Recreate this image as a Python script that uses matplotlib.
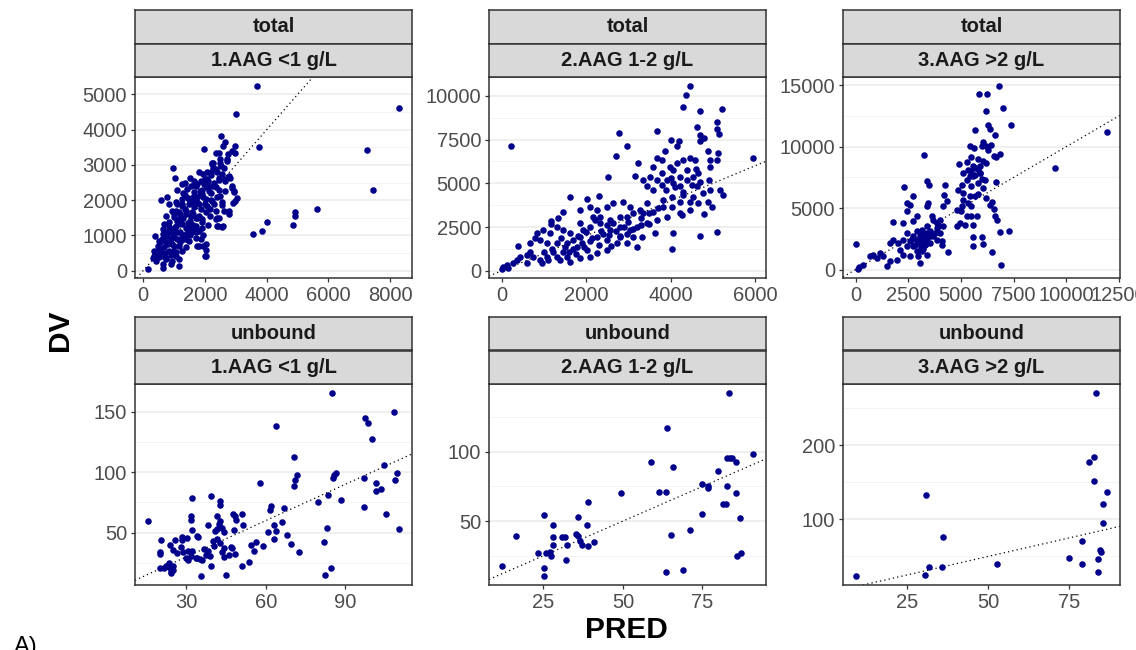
import matplotlib
matplotlib.use('Agg')
import matplotlib.pyplot as plt
from matplotlib.ticker import MultipleLocator

plt.rcParams['font.family'] = ['Liberation Sans', 'DejaVu Sans']

# ---------------- data (PRED, DV) ----------------
panel_titles_top = ["total", "total", "total", "unbound", "unbound", "unbound"]
panel_titles_bottom = ["1.AAG <1 g/L", "2.AAG 1-2 g/L", "3.AAG >2 g/L",
                       "1.AAG <1 g/L", "2.AAG 1-2 g/L", "3.AAG >2 g/L"]

total_aag1_pred = [3683, 8298, 3017, 7235, 7429, 3758, 5625, 4907, 4907, 4843, 4025, 3832, 3543, 2009, 2041, 655,
    2877, 2953, 3039, 2910, 2771, 2556, 2416, 2599, 2438, 1867, 1921, 2029, 2803, 2663, 2448, 2180, 2094, 2051, 1943, 1653,
    2717, 2524, 2266, 2481, 2234,
    2534, 2663, 2577, 2341, 2470, 1965, 2985, 2878, 2985, 2717, 2502, 2255,
    978, 1804, 2212, 2341, 2556, 2448, 2770, 2180, 2073, 1858, 1504, 1021,
    1751, 1965, 2341, 2663, 2878, 2931, 1429, 1643, 1912, 2126, 2502, 1268, 1482, 1751, 2019, 2234, 570, 785,
    838, 1053, 1268, 1482, 1643, 1858, 2073, 2287, 2556, 2985, 946, 1160, 1375, 1590, 1804, 2019, 2341, 2609, 731, 999,
    1214, 1912, 2395, 2770,
    677, 838, 1053, 1268, 1482, 1697, 1912, 2341, 624, 892, 1107, 1375, 1590, 1804, 2395, 2556, 785, 999, 1268, 1482, 1697,
    388, 516, 731, 946, 1160, 1375, 677, 463, 1804, 838, 1053, 1268, 570,
    355, 516, 731, 946, 1160, 409, 624, 892, 1160, 2019, 1751, 141, 302,
    1100, 1300, 1500, 1700, 1200, 1400, 1600, 1000, 900, 1100, 800, 1300, 1500, 1700, 1900, 2100, 1800, 2000, 2200, 2400,
    2200, 1600, 1300, 1100, 1400, 1600, 1200, 1000, 800, 600, 500, 700, 900, 1000, 1200, 1400, 700, 1100, 1900, 2100,
    2300, 2600, 2400, 2000, 1700,
    850, 950, 1150, 1250, 1350, 1450, 1550, 1650, 1750, 650, 750, 1050, 1150, 1250, 1350, 1450, 1950, 2150, 2250, 1850,
    550, 450, 650, 750, 350, 950, 1050, 1650, 1550, 1350, 2450, 2650, 2750, 2150, 1950, 1750, 1450, 1250, 1850, 2050]
total_aag1_dv = [5236, 4624, 4435, 3416, 2275, 3510, 1755, 1670, 1536, 1285, 1378, 1132, 1050, 425, 585, 66,
    2398, 2257, 2068, 1926, 1680, 1850, 1276, 1276, 1493, 898, 709, 756, 2624, 2605, 2577, 2719, 2530, 2360, 2737, 2549,
    3124, 2963, 2916, 3058, 3058,
    3821, 3652, 3538, 3350, 3350, 3444, 3538, 3397, 3350, 3180, 3161, 3067,
    2925, 2803, 3020, 2878, 2737, 2642, 2689, 2784, 2595, 2548, 2614, 2614,
    2454, 2454, 2359, 2265, 2331, 2218, 2312, 2218, 2171, 2265, 2123, 2029, 2029, 2076, 2029, 1982, 2001, 2076,
    1888, 1935, 1840, 1888, 1793, 1746, 1840, 1888, 1935, 1982, 1699, 1652, 1605, 1652, 1557, 1652, 1699, 1699, 1557, 1510,
    1463, 1463, 1482, 1605,
    1322, 1369, 1274, 1322, 1227, 1274, 1369, 1463, 1180, 1133, 1086, 1039, 1086, 1133, 1256, 1227, 991, 944, 897, 850, 916,
    973, 850, 803, 756, 708, 661, 661, 708, 708, 567, 520, 567, 520,
    425, 378, 331, 284, 331, 284, 190, 190, 142, 407, 690, 48, 350,
    1400, 1500, 1400, 1500, 1100, 1200, 1300, 1200, 900, 900, 750, 900, 1000, 1100, 1200, 1300, 1900, 1900, 2000, 2100,
    2200, 2100, 2200, 2300, 1700, 1600, 1600, 1600, 1100, 900, 600, 500, 450, 700, 800, 900, 1000, 1900, 2300, 2400,
    2500, 2900, 2800, 2600, 2400,
    1250, 1050, 1350, 1000, 1750, 1350, 1550, 1150, 1950, 1050, 800, 1700, 1450, 1900, 2150, 1100, 2100, 1750, 2400, 2250,
    800, 450, 400, 350, 550, 550, 400, 1950, 2400, 2500, 2300, 2550, 3300, 1550, 1000, 1500, 2050, 2450, 2150, 2800]

total_aag2_pred = [4469, 4366, 4295, 4698, 5219, 221, 2787, 3671, 2961, 2708, 5961, 5108, 5108, 5140, 4619, 4698, 4793,
    4698, 4003, 4200, 4145, 3868, 3671, 3789, 3592, 3237,
    3987, 4145, 4303, 4461, 4579, 4382, 4224, 4066,
    4895, 4935, 5093, 4943, 5116,
    3150, 3355, 3513, 3671, 3434, 3592, 3789, 3908, 4066, 4224, 4382, 4540, 4658, 4619,
    4935, 5172, 5250, 4777, 4540, 4303, 4027, 3829,
    4895, 4990, 4800, 4698, 5092, 4263, 4066, 4027, 3813, 3592, 3632, 3355, 3197, 2961, 3316,
    2526, 1618, 2013, 2313, 1461, 1161, 1161, 1342,
    2882, 2645, 2487, 2250, 2092, 1855, 3040, 3118, 2803, 2566,
    1855, 2092, 2329, 2566, 2803, 2250, 2487, 1855, 1618, 1461, 1303, 1145, 987, 908, 1066, 1303, 1540, 1776, 2013, 2250,
    2487, 2724, 2961, 3197, 2092, 1855, 1540, 1303, 1066, 908, 750, 671, 592, 434, 355, 276, 118, 39, 0, 158, 379, 829,
    790, 671, 592, 947, 1382, 1618, 1224, 1461, 1697, 1934, 2171, 2329, 2645,
    2803, 3040, 3118, 3434, 3671, 3908, 4224, 4461, 3276, 3434, 2961, 4224, 4027, 4461, 4658,
    1700, 1800, 1900, 2000, 2100, 2200, 2300, 2400, 2500, 1750, 1950, 2150, 2350, 2550, 2700, 2900, 3000, 3300, 3500, 3700,
    1400, 1500, 1600, 1200, 1000, 1100, 2600, 2800, 3100, 3300, 3500, 3900, 4100, 4300, 4500, 4700, 4900, 3800, 4000, 4600]
total_aag2_dv = [10554, 10039, 9354, 9106, 9239, 7106, 7868, 8001, 7106, 6572, 6439, 8496, 8115, 7791, 8192, 7772, 7582,
    7391, 7487, 7391, 7106, 6820, 6439, 6343, 5962, 6191,
    5962, 6153, 6343, 6439, 6343, 5772, 5391, 5772,
    6820, 6343, 6343, 5962, 6725,
    5429, 5201, 5391, 5201, 4820, 4629, 4915, 5201, 5010, 4820, 5201, 5391, 5582, 4820,
    4629, 4629, 4343, 4439, 4248, 4343, 4248, 4058,
    3962, 3639, 3258, 2019, 2248, 3181, 2191, 1257, 3677, 3391, 2153, 3296, 2534, 2115, 1962,
    5353, 4248, 4115, 4305, 3372, 2877, 2667, 3010,
    3962, 3867, 3677, 3486, 3677, 3486, 3677, 3296, 3105, 2915,
    2724, 2534, 2724, 2343, 2534, 1962, 1772, 1962, 2153, 2343, 2534, 2153, 2343, 1772, 1581, 1581, 1581, 1391, 1200, 1010,
    1200, 1581, 1581, 1391, 819, 724, 819, 819, 819, 629, 819, 1105, 914, 819, 629, 476, 343, 248, 114, 152, 1448, 2153,
    1867, 1581, 438, 438, 629, 533, 1105, 1105, 1772, 2343, 3105, 3105, 2724,
    1962, 2343, 1962, 2724, 2915, 3105, 3296, 3486, 3486, 3867, 3105, 3962, 3677, 3962, 3867,
    1250, 2000, 1600, 2200, 1700, 2900, 1500, 2100, 2600, 950, 1350, 1850, 2250, 2050, 2300, 2500, 2800, 3000, 3300, 3600,
    1900, 1350, 1050, 1250, 1100, 600, 1400, 2000, 2400, 2600, 2700, 4600, 4800, 4500, 4900, 5100, 5200, 5600, 5300, 5800]

total_aag3_pred = [6818, 5838, 6249, 7024, 7404, 11960, 9460, 3243, 6929, 0, 110,
    6201, 6296, 6375, 5695, 6882, 6613, 6423, 6059, 5980, 6186, 6312, 5426, 5616,
    6597, 6692, 6660, 6455, 6565, 6629, 6724, 6850, 7293, 6375, 6217, 6059, 5822,
    4904, 5268, 5505, 5822, 6059, 6217, 5901, 5584, 5347, 5110, 5426, 5664, 5901, 6138, 5822, 5505, 5268, 5031, 4873,
    5110, 5426, 5664, 5822, 5110, 5347, 5505, 5031, 4794, 4983, 5268, 5505, 5743, 5584, 5205, 4952, 4794, 5584, 5996,
    6059, 5584, 6502,
    2294, 2737, 2421, 2579, 3370, 3497, 4240, 4192, 4145, 4351, 3449, 3401, 1788, 2231, 2737, 2895, 2421,
    3607, 3686, 4003, 3844,
    3370, 3132, 2895, 3528, 3844, 4161, 4003, 3686, 3370, 3053, 2737, 2421, 2262, 2025, 1788, 1629, 2104, 2421, 2737,
    3053, 3291, 3528, 3844, 4082, 3132, 2974, 2579, 2262, 1946, 1629, 1155, 838, 680, 997, 1471, 1313, 364, 174, 3053,
    3370, 4398, 4082,
    3211, 3528, 3765, 3923, 3370, 2895, 3211,
    2600, 2800, 3000, 3100, 3300, 3400, 3600, 3200, 2900, 2700, 5700, 5900, 6000, 5600, 5500]
total_aag3_dv = [14932, 14309, 14309, 13144, 11789, 11192, 8266, 9322, 352, 2087, 60,
    12873, 11789, 11436, 11382, 9404, 10921, 10163, 10352, 10027, 10027, 9756, 10027, 9892,
    9268, 9133, 7100, 5474, 4932, 4390, 4011, 3035, 3116, 5284, 5854, 6612, 8184,
    8618, 8726, 9160, 8997, 8808, 8672, 8401, 8401, 8130, 7859, 7588, 7724, 7859, 7317, 7046, 6775, 7317, 6911, 6504,
    6233, 5962, 6016, 6179, 5691, 5420, 5149, 5149, 4878, 4743, 4336, 4336, 4336, 3659, 3659, 3794, 3577, 2656, 2656,
    2060, 1951, 1409,
    6721, 5962, 5420, 5284, 7181, 6911, 6911, 6098, 5149, 5555, 5420, 5203, 3875, 3794, 3930, 4336, 4743,
    4336, 4065, 4065, 3794,
    3523, 3252, 3116, 3116, 3388, 3523, 2981, 2710, 2575, 2710, 2710, 2981, 2439, 2168, 2439, 2168, 1626, 1897, 1897,
    2168, 2033, 2168, 2439, 2304, 1491, 1084, 1084, 1220, 813, 678, 1355, 1220, 1084, 949, 271, 1084, 407, 217, 542,
    1220, 1409, 2033,
    2981, 2710, 2981, 3523, 2981, 2439, 2439,
    2300, 2000, 2400, 1800, 2600, 2200, 2800, 1700, 1500, 2500, 8300, 7900, 7400, 7600, 8000]

unbound_aag1_pred = [15.4, 85.0, 108.4, 97.3, 98.5, 100.1, 64.0, 70.6, 70.6, 71.0, 71.9, 57.9, 85.4, 85.8, 86.3, 96.9,
    104.6, 108.6, 109.6, 101.4, 101.4, 103.4, 83.6, 79.6, 66.9, 61.9, 61.4, 88.5, 96.9, 105.4, 110.4, 83.0, 82.0, 84.6,
    82.5, 39.5, 32.0, 42.9, 42.9, 31.6, 31.6, 32.3, 38.3, 34.5,
    41.6, 42.9, 42.3, 41.6, 43.5, 44.1, 40.8, 41.4, 40.1, 42.6,
    47.6, 48.3, 48.9, 47.9, 50.9, 51.4, 47.3, 63.8, 62.9, 63.1, 66.0, 60.8,
    69.5, 72.6, 67.9, 59.0, 56.3, 55.4, 54.5, 53.8, 51.0, 47.0, 46.0, 44.4, 44.4, 44.8, 35.4, 39.3, 39.1, 38.1, 37.6,
    35.1, 35.8, 34.1, 33.5, 31.6, 30.6, 29.9, 28.9, 27.9, 26.6, 25.6, 25.1, 23.8, 23.3, 20.4, 19.9, 20.1, 19.9, 21.6,
    22.4, 23.5, 24.1, 24.4, 24.8, 25.1, 28.4, 28.5, 30.4, 30.6, 34.1, 32.3, 36.6, 40.4, 48.5, 43.3]
unbound_aag1_dv = [59.3, 165.4, 149.5, 144.8, 140.4, 127.7, 138.5, 112.4, 88.2, 93.4, 98.1, 90.9, 95.3, 97.3, 99.0, 95.3,
    106.0, 93.4, 99.7, 90.7, 84.3, 86.3, 80.8, 75.3, 70.1, 72.0, 68.4, 77.2, 71.2, 65.7, 53.0, 53.8, 42.3, 20.6,
    15.1, 80.0, 78.3, 76.4, 72.8, 63.7, 60.4, 51.9, 56.6, 46.7,
    63.7, 59.3, 56.9, 52.7, 54.1, 50.5, 51.1, 44.5, 43.1, 41.8,
    65.7, 63.7, 60.4, 51.9, 65.1, 56.6, 37.4, 51.4, 56.6, 44.8, 58.5, 50.3,
    40.4, 33.8, 48.1, 38.7, 42.0, 34.6, 39.6, 25.5, 22.5, 38.5, 31.6, 29.9, 37.4, 15.1, 14.3, 22.3, 30.5, 35.2, 31.6,
    28.6, 27.7, 29.4, 28.8, 31.0, 27.5, 28.8, 34.1, 37.9, 33.5, 44.0, 36.0, 39.8, 25.3, 44.0, 34.3, 32.7, 20.6, 20.6,
    22.3, 21.4, 18.7, 16.5, 19.0, 22.8, 44.2, 46.4, 45.6, 34.9, 47.3, 34.9, 36.3, 39.0, 32.1, 34.1]

unbound_aag2_pred = [83.2, 64.0, 91.0, 58.8, 65.6, 82.7, 83.6, 84.2, 85.5, 79.8, 74.9, 76.6, 76.7, 82.8, 85.6, 61.2, 63.6,
    49.3, 81.5, 82.4, 74.9, 86.9, 71.1, 65.0, 38.9, 35.8, 38.6, 28.0, 25.2, 16.3, 11.9, 85.9, 87.2, 63.7, 69.0, 25.2,
    25.2, 23.2, 25.8, 27.1, 27.3, 27.9, 31.0, 31.9, 28.2, 32.3, 32.0, 35.3, 35.8, 36.6, 37.3, 39.1, 40.9]
unbound_aag2_dv = [142.3, 117.2, 98.6, 92.8, 89.0, 95.5, 95.5, 95.5, 92.8, 85.9, 76.6, 75.4, 74.2, 75.6, 70.3, 71.1, 71.1,
    70.3, 62.4, 62.4, 55.3, 52.2, 43.5, 39.7, 63.9, 53.1, 47.4, 46.9, 54.5, 39.0, 17.7, 24.9, 27.3, 13.2, 14.6, 16.3,
    10.5, 27.3, 27.3, 28.0, 24.6, 38.8, 38.8, 38.8, 32.5, 32.5, 21.8, 40.4, 39.5, 35.6, 32.8, 31.8, 34.9]

unbound_aag3_pred = [83.4, 82.7, 81.0, 82.7, 86.8, 30.9, 85.3, 85.3, 36.1, 79.0, 84.4, 84.7, 74.9, 84.0, 52.9, 79.0,
    31.8, 35.8, 84.0, 30.6, 9.2]
unbound_aag3_dv = [270.4, 183.9, 178.0, 151.6, 136.8, 132.3, 120.6, 95.5, 76.7, 70.9, 59.2, 56.1, 48.4, 47.1, 39.9, 39.9,
    35.4, 35.4, 29.6, 25.1, 23.8]

panels_pred = [total_aag1_pred, total_aag2_pred, total_aag3_pred,
               unbound_aag1_pred, unbound_aag2_pred, unbound_aag3_pred]
panels_dv = [total_aag1_dv, total_aag2_dv, total_aag3_dv,
             unbound_aag1_dv, unbound_aag2_dv, unbound_aag3_dv]
x_major = [2000, 2000, 2500, 30, 25, 25]
y_major = [1000, 2500, 5000, 50, 50, 100]

# ---------------- layout (pixels) ----------------
W, H = 1136, 650
fig = plt.figure(figsize=(W / 100, H / 100), dpi=100)


def fx(px):
    return px / W


def fy(py):
    return 1 - py / H


cols = [(135, 412), (489, 766), (843, 1120)]
rows = [(10, 43.5, 77, 278), (317, 350.5, 384, 585)]

BORDER = '#333333'
STRIP = '#D9D9D9'
PT = '#00008B'

for i in range(6):
    r, c = divmod(i, 3)
    x0, x1 = cols[c]
    s_top, s_mid, p_top, p_bot = rows[r]

    ax = fig.add_axes([fx(x0), fy(p_bot), (x1 - x0) / W, (p_bot - p_top) / H])
    ax.plot(panels_pred[i], panels_dv[i], 'o', color=PT, ms=4.7, mew=0, zorder=3)
    ax.margins(0.05)
    ax.autoscale_view()
    ax.set_autoscale_on(False)
    ax.set_xlim(ax.get_xlim())
    ax.set_ylim(ax.get_ylim())
    ax.axline((1, 1), slope=1, color='black', lw=0.9, ls=(0, (1, 2.5)), zorder=2)
    ax.set_xlim(ax.get_xlim())

    ax.xaxis.set_major_locator(MultipleLocator(x_major[i]))
    ax.yaxis.set_major_locator(MultipleLocator(y_major[i]))
    ax.yaxis.set_minor_locator(MultipleLocator(y_major[i] / 2))
    ax.set_axisbelow(True)
    ax.yaxis.grid(True, which='major', color='#EBEBEB', lw=1.1)
    ax.yaxis.grid(True, which='minor', color='#F2F2F2', lw=0.6)
    ax.xaxis.grid(False)
    ax.tick_params(which='major', direction='out', length=3.2, width=0.9, color=BORDER,
                   labelcolor='#4D4D4D', labelsize=14.5, pad=2.5)
    ax.tick_params(which='minor', length=0)
    for sp in ax.spines.values():
        sp.set_color(BORDER)
        sp.set_linewidth(1.1)

    for (yt, yb, label) in [(s_top, s_mid, panel_titles_top[i]), (s_mid, p_top, panel_titles_bottom[i])]:
        sa = fig.add_axes([fx(x0), fy(yb), (x1 - x0) / W, (yb - yt) / H])
        sa.set_facecolor(STRIP)
        sa.set_xticks([])
        sa.set_yticks([])
        for sp in sa.spines.values():
            sp.set_color(BORDER)
            sp.set_linewidth(1.1)
        sa.text(0.5, 0.5, label, ha='center', va='center', fontsize=14.5,
                fontweight='bold', color='#1A1A1A', transform=sa.transAxes)

fig.text(fx(60), fy(330), 'DV', rotation=90, fontsize=21.5, fontweight='bold',
         ha='center', va='center')
fig.text(fx(626), fy(630), 'PRED', fontsize=21.5, fontweight='bold',
         ha='center', va='center')
fig.text(fx(14), fy(636), 'A)', fontsize=17, ha='left', va='top')

fig.savefig('out.png', dpi=100)
